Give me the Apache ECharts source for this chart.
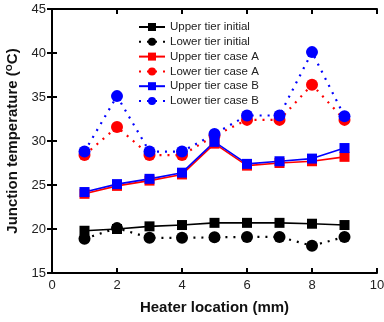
<!DOCTYPE html>
<html><head><meta charset="utf-8">
<script src="https://cdn.jsdelivr.net/npm/echarts@6/dist/echarts.min.js"></script>
<style>html,body{margin:0;padding:0;background:#fff}#c{width:384px;height:322px}</style>
</head><body><div id="c"></div>
<script>
const xs = [1,2,3,4,5,6,7,8,9];
const upperInitial = [19.8,20.0,20.3,20.45,20.7,20.7,20.7,20.6,20.45];
const lowerInitial = [18.9,20.1,19.0,19.0,19.05,19.1,19.1,18.1,19.1];
const upperA = [24.0,24.9,25.5,26.2,29.7,27.2,27.5,27.7,28.2];
const lowerA = [28.4,31.6,28.4,28.4,30.6,32.4,32.4,36.4,32.4];
const upperB = [24.2,25.1,25.7,26.4,29.9,27.4,27.7,28.0,29.2];
const lowerB = [28.8,35.1,28.8,28.8,30.8,32.9,32.9,40.1,32.8];
const names = ['Upper tier initial','Lower tier initial','Upper tier case A','Lower tier case A','Upper tier case B','Lower tier case B'];

function pts(v){ return xs.map((x,i)=>[x,v[i]]); }
function ser(name, data, color, upper){
  return {
    name, type:'line', data: pts(data),
    symbol: upper ? 'rect' : 'circle',
    symbolSize: upper ? 10 : 12,
    itemStyle:{color},
    lineStyle:{color, width: upper?1.6:2.2, type: upper?'solid':[2,6]},
    z: 2
  };
}
const chart = echarts.init(document.getElementById('c'));
const axCommon = {
  axisLine:{show:true,lineStyle:{color:'#000',width:2}},
  axisTick:{inside:true,length:5,lineStyle:{color:'#000',width:2}},
  splitLine:{show:false}
};
chart.setOption({
  animation:false,
  textStyle:{fontFamily:'Liberation Sans, Arial, sans-serif'},
  grid:{left:52,right:7,top:9,bottom:49,outerBoundsMode:'none',containLabel:false},
  legend:{
    orient:'vertical', left:133, top:16, itemWidth:26, itemHeight:10, itemGap:2.8,
    textStyle:{fontSize:11.5,color:'#222',fontFamily:'Liberation Sans, Arial, sans-serif'},
    data:names
  },
  xAxis:[
    Object.assign({type:'value',min:0,max:10,interval:2,position:'bottom',
      axisLabel:{fontSize:13,color:'#222',margin:6},
      name:'Heater location (mm)',nameLocation:'middle',nameGap:27,
      nameTextStyle:{fontSize:15,fontWeight:'bold',color:'#111'}},axCommon),
    Object.assign({type:'value',min:0,max:10,interval:2,position:'top',axisLabel:{show:false}},axCommon)
  ],
  yAxis:[
    Object.assign({type:'value',min:15,max:45,interval:5,position:'left',
      axisLabel:{fontSize:13,color:'#222',margin:6},
      name:'{a|Junction temperature (}{s|O}{a|C)}',nameLocation:'middle',nameGap:29,
      nameTextStyle:{rich:{
        a:{fontSize:15,fontWeight:'bold',color:'#111',fontFamily:'Liberation Sans, Arial, sans-serif'},
        s:{fontSize:9,fontWeight:'bold',color:'#111',verticalAlign:'bottom',padding:[0,0,7,0],fontFamily:'Liberation Sans, Arial, sans-serif'}
      }}},axCommon),
    Object.assign({type:'value',min:15,max:45,interval:5,position:'right',axisLabel:{show:false}},axCommon)
  ],
  series:[
    ser(names[0],upperInitial,'#000',true),
    ser(names[1],lowerInitial,'#000',false),
    ser(names[2],upperA,'#ff0000',true),
    ser(names[3],lowerA,'#ff0000',false),
    ser(names[4],upperB,'#0000ff',true),
    ser(names[5],lowerB,'#0000ff',false)
  ]
});
</script></body></html>
